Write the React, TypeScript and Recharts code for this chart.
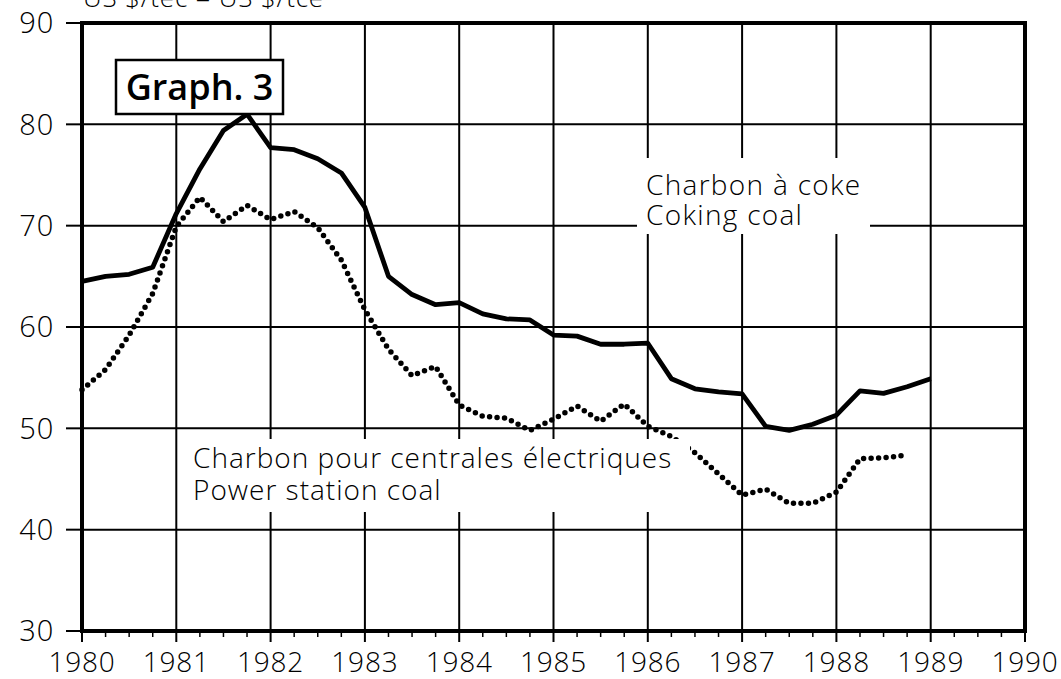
import { LineChart, Line, XAxis, YAxis, CartesianGrid, ReferenceArea } from 'recharts';

// quarterly observations, 1980 Q1 .. 1989 Q1
const quarters = [
  1980, 1980.25, 1980.5, 1980.75,
  1981, 1981.25, 1981.5, 1981.75,
  1982, 1982.25, 1982.5, 1982.75,
  1983, 1983.25, 1983.5, 1983.75,
  1984, 1984.25, 1984.5, 1984.75,
  1985, 1985.25, 1985.5, 1985.75,
  1986, 1986.25, 1986.5, 1986.75,
  1987, 1987.25, 1987.5, 1987.75,
  1988, 1988.25, 1988.5, 1988.75,
  1989,
];

// Charbon à coke / Coking coal (US $/tce)
const cokingCoal = [
  64.5, 65.0, 65.2, 65.9,
  71.2, 75.6, 79.4, 81.0,
  77.7, 77.5, 76.6, 75.2,
  71.8, 65.0, 63.2, 62.2,
  62.4, 61.3, 60.8, 60.7,
  59.2, 59.1, 58.3, 58.3,
  58.4, 54.9, 53.9, 53.6,
  53.4, 50.2, 49.8, 50.4,
  51.3, 53.7, 53.45, 54.1,
  54.9,
];

// Charbon pour centrales électriques / Power station coal (US $/tce)
const powerStationCoal = [
  53.8, 55.8, 59.2, 63.3,
  69.9, 72.8, 70.4, 72.0,
  70.6, 71.4, 69.8, 66.6,
  61.7, 57.8, 55.2, 56.1,
  52.3, 51.2, 51.0, 49.8,
  50.9, 52.2, 50.7, 52.4,
  50.2, 49.2, 47.6, 45.5,
  43.4, 44.0, 42.6, 42.6,
  43.7, 47.0, 47.1, 47.35,
];

const yearTicks = [1980, 1981, 1982, 1983, 1984, 1985, 1986, 1987, 1988, 1989, 1990];
const priceTicks = [30, 40, 50, 60, 70, 80, 90];

const data = quarters.map((q, i) => ({
  q,
  coking: cokingCoal[i],
  power: powerStationCoal[i],
}));

const quarterTicks = yearTicks.flatMap((y) => (y < 1990 ? [y, y + 0.25, y + 0.5, y + 0.75] : [y]));

const FONT = '"Open Sans", "DejaVu Sans", sans-serif';

function YearTick(props: any) {
  const { x, y, payload } = props;
  const v = payload.value as number;
  const major = Number.isInteger(v);
  return (
    <g>
      <line x1={x} x2={x} y1={y} y2={y + (major ? 11 : 6)} stroke="#000" strokeWidth={major ? 2 : 1.5} />
      {major && (
        <text x={x} y={y + 41} textAnchor="middle" fontSize={28} letterSpacing={0.8} fontFamily={FONT} fontWeight={300} fill="#000">
          {v}
        </text>
      )}
    </g>
  );
}

export default function App() {
  return (
    <div style={{ position: 'absolute', left: 0, top: 0, width: 1061, height: 679, background: '#fff' }}>
      <LineChart width={1061} height={679} data={data} margin={{ top: 23, right: 36, bottom: 0, left: 0 }}>
        <CartesianGrid
          stroke="#000"
          strokeWidth={2}
          verticalValues={yearTicks}
          horizontalValues={priceTicks}
        />
        <XAxis
          dataKey="q"
          type="number"
          domain={[1980, 1990]}
          ticks={quarterTicks}
          interval={0}
          tickSize={0}
          tickMargin={0}
          axisLine={false}
          tickLine={false}
          height={48}
          tick={<YearTick />}
        />
        <YAxis
          type="number"
          domain={[30, 90]}
          ticks={priceTicks}
          interval={0}
          width={82}
          tickSize={16}
          tickMargin={12}
          axisLine={false}
          tickLine={{ stroke: '#000', strokeWidth: 2 }}
          tick={{ fontSize: 29, fill: '#000', fontFamily: FONT, fontWeight: 300, letterSpacing: 0.8 }}
        />
        <ReferenceArea x1={1980} x2={1990} y1={30} y2={90} fill="none" stroke="#000" strokeWidth={4} />
        <Line
          dataKey="power"
          stroke="#000"
          strokeWidth={5.5}
          strokeDasharray="0 7.5"
          strokeLinecap="round"
          dot={false}
          isAnimationActive={false}
        />
        <Line
          dataKey="coking"
          stroke="#000"
          strokeWidth={4.8}
          strokeLinejoin="round"
          dot={false}
          isAnimationActive={false}
        />
      </LineChart>

      <svg
        width={1061}
        height={679}
        style={{ position: 'absolute', left: 0, top: 0, pointerEvents: 'none' }}
        fontFamily={FONT}
      >
        <text x={83} y={7} fontSize={26} fontWeight={300} letterSpacing={0.8} fill="#000">US $/tec = US $/tce</text>

        <rect x={116} y={60} width={167} height={54} fill="#fff" stroke="#000" strokeWidth={2.5} />
        <text x={199.5} y={100} textAnchor="middle" fontSize={36} fontWeight={600} fill="#000">Graph. 3</text>

        <rect x={637} y={158} width={233} height={76} fill="#fff" />
        <text x={646} y={195} fontSize={28} fontWeight={300} letterSpacing={1.3} fill="#000">Charbon à coke</text>
        <text x={646} y={225} fontSize={28} fontWeight={300} letterSpacing={1.3} fill="#000">Coking coal</text>

        <rect x={185} y={439} width={505} height={73} fill="#fff" />
        <text x={193} y={468} fontSize={28} fontWeight={300} letterSpacing={1.0} fill="#000">Charbon pour centrales électriques</text>
        <text x={193} y={500} fontSize={28} fontWeight={300} letterSpacing={1.0} fill="#000">Power station coal</text>
      </svg>
    </div>
  );
}
